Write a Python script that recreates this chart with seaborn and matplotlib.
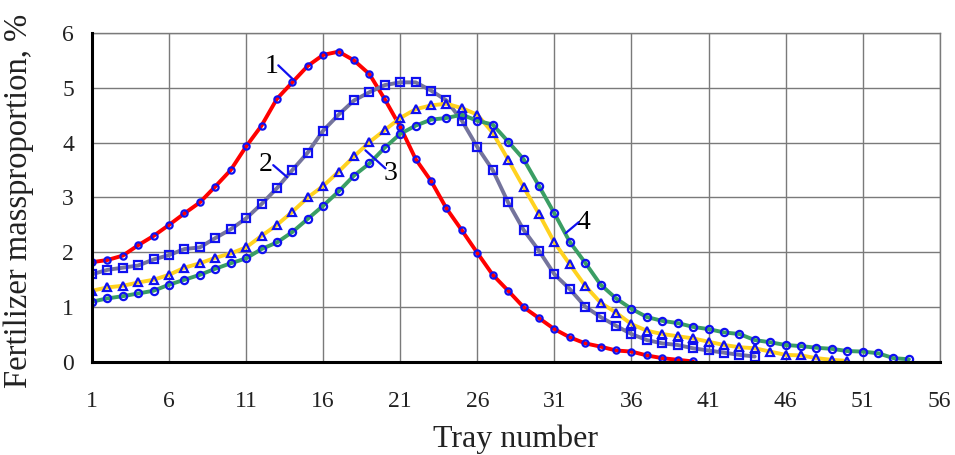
import numpy as np
import pandas as pd
import matplotlib
matplotlib.use("Agg")
import matplotlib.pyplot as plt
import seaborn as sns

# ---- data ----
s1 = [1.82, 1.86, 1.94, 2.13, 2.30, 2.50, 2.71, 2.91, 3.20, 3.50, 3.93, 4.31, 4.80, 5.10, 5.40,
      5.60, 5.66, 5.50, 5.25, 4.79, 4.29, 3.70, 3.30, 2.80, 2.40, 1.99, 1.59, 1.30, 1.00, 0.80,
      0.60, 0.45, 0.34, 0.28, 0.21, 0.19, 0.12, 0.07, 0.04, 0.01]
s2 = [1.60, 1.68, 1.72, 1.76, 1.87, 1.95, 2.06, 2.09, 2.26, 2.42, 2.62, 2.88, 3.17, 3.50, 3.82,
      4.22, 4.51, 4.77, 4.92, 5.05, 5.10, 5.10, 4.95, 4.77, 4.40, 3.92, 3.50, 2.91, 2.41, 2.03,
      1.60, 1.33, 1.01, 0.82, 0.66, 0.51, 0.40, 0.34, 0.31, 0.25, 0.21, 0.17, 0.13, 0.10]
s3 = [1.30, 1.36, 1.39, 1.45, 1.50, 1.59, 1.72, 1.80, 1.90, 1.98, 2.09, 2.30, 2.50, 2.74, 3.00,
      3.21, 3.47, 3.75, 4.01, 4.23, 4.45, 4.61, 4.68, 4.71, 4.63, 4.51, 4.18, 3.69, 3.19, 2.70,
      2.18, 1.78, 1.39, 1.08, 0.90, 0.69, 0.57, 0.51, 0.47, 0.43, 0.37, 0.31, 0.27, 0.25, 0.19,
      0.13, 0.12, 0.07, 0.04, 0.02]
s4 = [1.10, 1.16, 1.20, 1.25, 1.30, 1.41, 1.50, 1.59, 1.70, 1.80, 1.89, 2.06, 2.18, 2.37, 2.61,
      2.85, 3.11, 3.40, 3.62, 3.91, 4.16, 4.31, 4.42, 4.45, 4.51, 4.40, 4.33, 4.02, 3.70, 3.21,
      2.71, 2.19, 1.81, 1.41, 1.16, 0.97, 0.82, 0.75, 0.71, 0.64, 0.60, 0.54, 0.51, 0.40, 0.36,
      0.31, 0.29, 0.26, 0.24, 0.20, 0.19, 0.16, 0.07, 0.05]
series_names = ["1", "2", "3", "4"]
series_values = [s1, s2, s3, s4]
x_ticks = [1, 6, 11, 16, 21, 26, 31, 36, 41, 46, 51, 56]
y_ticks = [0, 1, 2, 3, 4, 5, 6]

line_colors = ["#ff0000", "#74749c", "#ffd21f", "#3a9e64"]
markers = ["o", "s", "^", "o"]
marker_sizes = [4.5, 5.8, 6.0, 5.2]

sns.set_theme(style="white")
plt.rcParams["font.family"] = ["Liberation Serif", "DejaVu Serif"]

fig = plt.figure(figsize=(9.55, 4.55), dpi=100)
ax = fig.add_axes([0.0963, 0.2044, 0.8877, 0.7231])

for name, vals, col, mk, ms in zip(series_names, series_values, line_colors, markers, marker_sizes):
    df = pd.DataFrame({"tray": np.arange(1, len(vals) + 1), "val": vals})
    sns.lineplot(data=df, x="tray", y="val", ax=ax, color=col, linewidth=2.8,
                 marker=mk, markersize=ms, markeredgecolor="#1010f0",
                 markerfacecolor="none", markeredgewidth=1.6, zorder=3)

ax.set_xlim(1, 56)
ax.set_ylim(0, 6)
ax.set_xticks(x_ticks)
ax.set_yticks(y_ticks)
ax.set_xticklabels([str(t) for t in x_ticks])
ax.set_yticklabels([str(t) for t in y_ticks])
ax.grid(True, color="#7a7a7a", linewidth=1.0)
ax.set_axisbelow(True)
for side in ["top", "right"]:
    ax.spines[side].set_color("#7a7a7a")
    ax.spines[side].set_linewidth(1.0)
for side in ["left", "bottom"]:
    ax.spines[side].set_color("black")
    ax.spines[side].set_linewidth(2.2)
    ax.spines[side].set_zorder(5)

ax.tick_params(axis="both", labelsize=17, colors="#222222", length=0)
ax.tick_params(axis="x", pad=21)
ax.tick_params(axis="y", pad=13)
ax.set_xlabel("Tray number", fontsize=23, color="#222222")
ax.set_ylabel("Fertilizer massproportion, %", fontsize=23.5, color="#222222")
ax.xaxis.set_label_coords(0.5, -0.19)
ax.yaxis.set_label_coords(-0.068, 0.49)

# curve labels with leader lines (data coordinates)
labels = [("1", 12.68, 5.38, 13.09, 5.41, 14.06, 5.15),
          ("2", 12.24, 3.61, 12.76, 3.59, 13.67, 3.37),
          ("3", 20.36, 3.44, 20.04, 3.53, 18.74, 3.86),
          ("4", 32.9, 2.55, 32.58, 2.55, 31.73, 2.35)]
for txt, tx, ty, x0, y0, x1, y1 in labels:
    ax.text(tx, ty, txt, fontsize=20, color="black", ha="center", va="center", zorder=6)
    ax.plot([x0, x1], [y0, y1], color="#1010f0", linewidth=1.6, zorder=6)

fig.savefig("out.png", dpi=100)
